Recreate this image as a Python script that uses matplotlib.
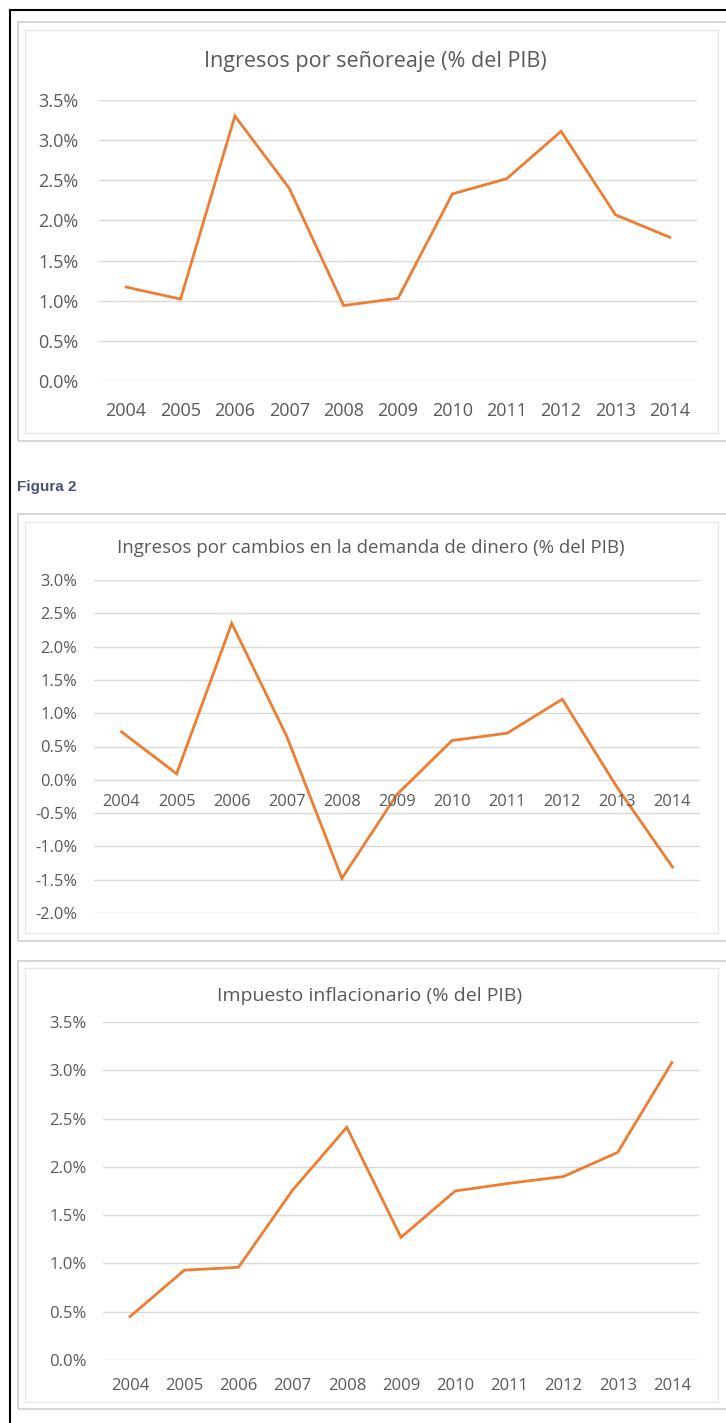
import matplotlib.pyplot as plt
from matplotlib.patches import Rectangle
from matplotlib.ticker import FuncFormatter

plt.rcParams['font.family'] = ['Open Sans', 'DejaVu Sans']

years = ["2004", "2005", "2006", "2007", "2008", "2009", "2010", "2011", "2012", "2013", "2014"]

senoreaje = [1.17, 1.02, 3.30, 2.40, 0.94, 1.03, 2.33, 2.52, 3.11, 2.07, 1.79]
demanda_dinero = [0.72, 0.09, 2.35, 0.65, -1.48, -0.22, 0.59, 0.70, 1.21, -0.12, -1.31]
impuesto_inflacionario = [0.45, 0.93, 0.96, 1.76, 2.41, 1.27, 1.75, 1.83, 1.90, 2.15, 3.08]

titles = ["Ingresos por señoreaje (% del PIB)",
          "Ingresos por cambios en la demanda de dinero (% del PIB)",
          "Impuesto inflacionario (% del PIB)"]

W, H = 726, 1423
ORANGE = "#ED7D31"
GREY_TXT = "#595959"
GRID = "#D9D9D9"

fig = plt.figure(figsize=(W / 100, H / 100), dpi=100)


def px_rect(x0, y0, x1, y1):
    # pixel box (top-left origin) -> figure fraction [left, bottom, width, height]
    return [x0 / W, 1 - y1 / H, (x1 - x0) / W, (y1 - y0) / H]


def frame(x0, y0, x1, y1, color, lw):
    fig.patches.append(Rectangle((x0 / W, 1 - y1 / H), (x1 - x0) / W, (y1 - y0) / H,
                                 transform=fig.transFigure, fill=False,
                                 edgecolor=color, linewidth=lw))


# page border
fig.add_artist(plt.Line2D([10 / W, 10 / W], [0, 1 - 10 / H],
                          transform=fig.transFigure, color="black", linewidth=1.5))
fig.add_artist(plt.Line2D([10 / W, 1], [1 - 10 / H, 1 - 10 / H],
                          transform=fig.transFigure, color="black", linewidth=1.5))

# panel boxes: outer, inner
panels = [
    ((18, 22, 740, 441), (25, 30, 718, 433)),
    ((18, 514, 740, 941), (25, 522, 718, 933)),
    ((18, 961, 740, 1409), (25, 968, 718, 1402)),
]
for outer, inner in panels:
    frame(*outer, "#D0D0D0", 1.2)
    frame(*inner, "#E6E6E6", 1.0)

fig.text(17 / W, 1 - 487 / H, "Figura 2", fontsize=11, fontweight="bold",
         color="#46547A", family=["Liberation Sans", "DejaVu Sans"], va="center")

# per panel: data, axes box px (x0, y_top, x1, y_bottom), ylim, title y, title size,
# tick size, y pad, x pad, title centre x
specs = [
    (senoreaje, (99, 100, 697, 381), (0.0, 3.5), 62, 15.5, 13.0, 15, 15, 375),
    (demanda_dinero, (94, 580, 700, 913), (-2.0, 3.0), 548, 13.5, 11.8, 12, 0, 371),
    (impuesto_inflacionario, (103, 1022, 699, 1360), (0.0, 3.5), 996, 14.0, 12.0, 12, 13, 370),
]

pct = FuncFormatter(lambda v, p: "%.1f%%" % v)

for (vals, box, ylim, title_y, tsize, ksize, ypad, xpad, tx), title in zip(specs, titles):
    ax = fig.add_axes(px_rect(*box))
    x = list(range(len(years)))
    ax.plot(x, vals, color=ORANGE, linewidth=2.0, solid_joinstyle="miter", zorder=3)
    ax.set_xlim(-0.5, len(years) - 0.5)
    ax.set_ylim(*ylim)
    ticks = [ylim[0] + 0.5 * i for i in range(int(round((ylim[1] - ylim[0]) / 0.5)) + 1)]
    ax.set_yticks(ticks)
    ax.yaxis.set_major_formatter(pct)
    ax.grid(axis="y", color=GRID, linewidth=1.0, zorder=0)
    ax.set_axisbelow(True)
    for s in ax.spines.values():
        s.set_visible(False)
    ax.tick_params(axis="both", length=0, colors=GREY_TXT, labelsize=ksize)
    ax.tick_params(axis="y", pad=ypad)
    ax.set_xticks(x)
    if ylim[0] < 0:
        # category labels sit next to the zero line
        ax.set_xticklabels([])
        for xi, lab in zip(x, years):
            ax.text(xi, -0.34, lab, ha="center", va="center",
                    fontsize=ksize, color=GREY_TXT)
    else:
        ax.set_xticklabels(years)
        ax.tick_params(axis="x", pad=xpad)
    fig.text(tx / W, 1 - title_y / H, title, ha="center", va="center",
             fontsize=tsize, color=GREY_TXT)

fig.savefig("out.png", dpi=100, facecolor="white")
